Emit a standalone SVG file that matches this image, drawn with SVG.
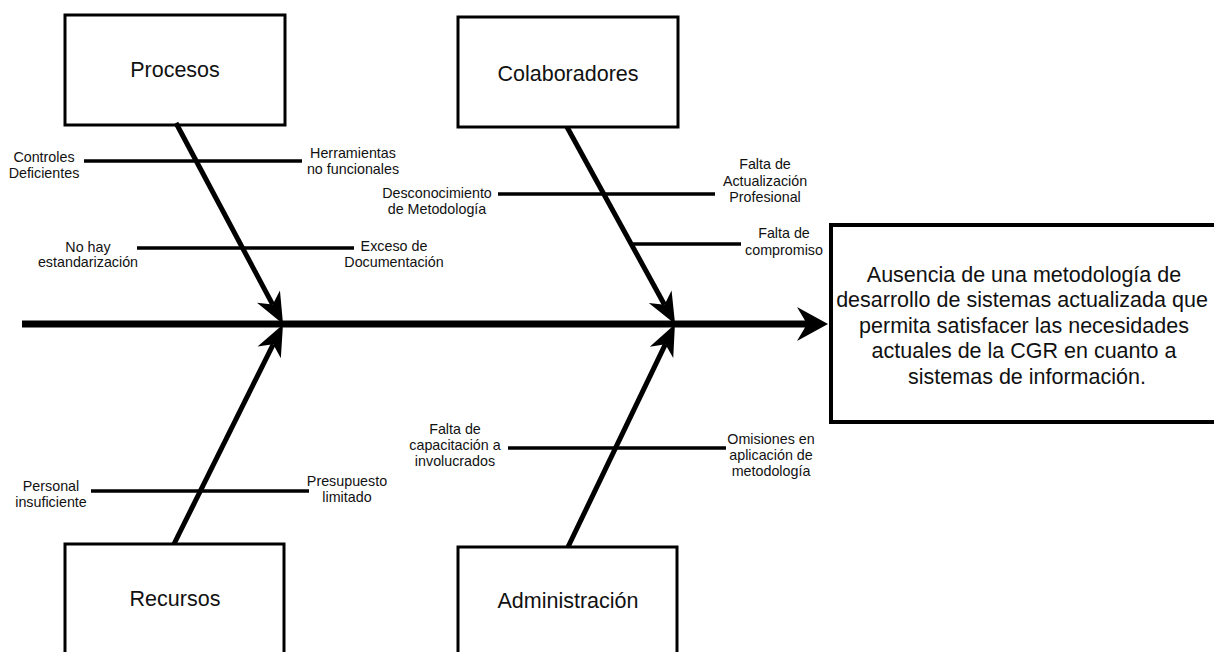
<svg xmlns="http://www.w3.org/2000/svg" width="1214" height="652" viewBox="0 0 1214 652">
  <style>
    .box { fill: #ffffff; stroke: #000000; stroke-width: 3; }
    .effect { fill: #ffffff; stroke: #000000; stroke-width: 4; }
    .title { font-family: "Liberation Sans", Arial, sans-serif; font-size: 21.5px; fill: #111111; text-anchor: middle; }
    .cause { font-family: "Liberation Sans", Arial, sans-serif; font-size: 14.3px; fill: #111111; text-anchor: middle; }
    .spine { stroke: #000000; stroke-width: 7; fill: none; }
    .bone { stroke: #000000; stroke-width: 5; fill: none; }
    .rib { stroke: #000000; stroke-width: 3.5; fill: none; }
  </style>
  <defs>
    <marker id="head-bone" markerUnits="userSpaceOnUse" viewBox="-32 -16 34 32" refX="-22" refY="0" markerWidth="34" markerHeight="32" orient="auto">
      <path d="M0,0 L-31,-13 L-22,0 L-31,13 Z" fill="#000000"/>
    </marker>
    <marker id="head-spine" markerUnits="userSpaceOnUse" viewBox="-32 -18 34 36" refX="-21" refY="0" markerWidth="34" markerHeight="36" orient="auto">
      <path d="M0,0 L-31,-17 L-21,0 L-31,17 Z" fill="#000000"/>
    </marker>
  </defs>

  <!-- category boxes -->
  <g id="procesos">
    <rect class="box" x="65" y="15" width="220" height="110"/>
    <text class="title" x="175" y="77">Procesos</text>
  </g>
  <g id="colaboradores">
    <rect class="box" x="458" y="17" width="220" height="110"/>
    <text class="title" x="568" y="81">Colaboradores</text>
  </g>
  <g id="recursos">
    <rect class="box" x="65" y="544" width="219" height="130"/>
    <text class="title" x="175" y="606">Recursos</text>
  </g>
  <g id="administracion">
    <rect class="box" x="458" y="547" width="219" height="130"/>
    <text class="title" x="568" y="608">Administración</text>
  </g>

  <!-- effect box -->
  <g id="efecto">
    <rect class="effect" x="831" y="225" width="420" height="197"/>
    <text class="title">
      <tspan x="1027" y="282">Ausencia de una metodología de</tspan>
      <tspan x="1025" y="307">desarrollo de sistemas actualizada que</tspan>
      <tspan x="1027" y="333">permita satisfacer las necesidades</tspan>
      <tspan x="1027" y="358">actuales de la CGR en cuanto a</tspan>
      <tspan x="1027" y="384">sistemas de información.</tspan>
    </text>
  </g>

  <!-- connectors -->
  <g id="connectors">
    <line class="spine" x1="22" y1="324" x2="807" y2="324" marker-end="url(#head-spine)"/>
    <line class="bone" x1="176" y1="123" x2="272.7" y2="304.6" marker-end="url(#head-bone)"/>
    <line class="bone" x1="174" y1="544" x2="273.2" y2="344.3" marker-end="url(#head-bone)"/>
    <line class="bone" x1="567" y1="127" x2="664.5" y2="304.7" marker-end="url(#head-bone)"/>
    <line class="bone" x1="568" y1="547" x2="665.4" y2="344.2" marker-end="url(#head-bone)"/>

    <line class="rib" x1="84" y1="161" x2="302" y2="161"/>
    <line class="rib" x1="137" y1="248" x2="354" y2="248"/>
    <line class="rib" x1="498" y1="194" x2="715" y2="194"/>
    <line class="rib" x1="633" y1="244" x2="741" y2="244"/>
    <line class="rib" x1="91" y1="491" x2="309" y2="491"/>
    <line class="rib" x1="508" y1="448" x2="726" y2="448"/>
  </g>

  <!-- cause labels -->
  <g id="causa-controles">
    <text class="cause"><tspan x="44" y="162">Controles</tspan><tspan x="44" y="178">Deficientes</tspan></text>
  </g>
  <g id="causa-herramientas">
    <text class="cause"><tspan x="353" y="158">Herramientas</tspan><tspan x="353" y="174">no funcionales</tspan></text>
  </g>
  <g id="causa-estandarizacion">
    <text class="cause"><tspan x="88" y="252">No hay</tspan><tspan x="88" y="267">estandarización</tspan></text>
  </g>
  <g id="causa-documentacion">
    <text class="cause"><tspan x="394" y="251">Exceso de</tspan><tspan x="394" y="267">Documentación</tspan></text>
  </g>
  <g id="causa-desconocimiento">
    <text class="cause"><tspan x="437" y="198">Desconocimiento</tspan><tspan x="437" y="214">de Metodología</tspan></text>
  </g>
  <g id="causa-actualizacion">
    <text class="cause"><tspan x="765" y="169">Falta de</tspan><tspan x="765" y="186">Actualización</tspan><tspan x="765" y="202">Profesional</tspan></text>
  </g>
  <g id="causa-compromiso">
    <text class="cause"><tspan x="784" y="238">Falta de</tspan><tspan x="784" y="255">compromiso</tspan></text>
  </g>
  <g id="causa-personal">
    <text class="cause"><tspan x="51" y="491">Personal</tspan><tspan x="51" y="507">insuficiente</tspan></text>
  </g>
  <g id="causa-presupuesto">
    <text class="cause"><tspan x="347" y="486">Presupuesto</tspan><tspan x="347" y="502">limitado</tspan></text>
  </g>
  <g id="causa-capacitacion">
    <text class="cause"><tspan x="455" y="434">Falta de</tspan><tspan x="455" y="450">capacitación a</tspan><tspan x="455" y="466">involucrados</tspan></text>
  </g>
  <g id="causa-omisiones">
    <text class="cause"><tspan x="771" y="444">Omisiones en</tspan><tspan x="771" y="460">aplicación de</tspan><tspan x="771" y="476">metodología</tspan></text>
  </g>
</svg>
